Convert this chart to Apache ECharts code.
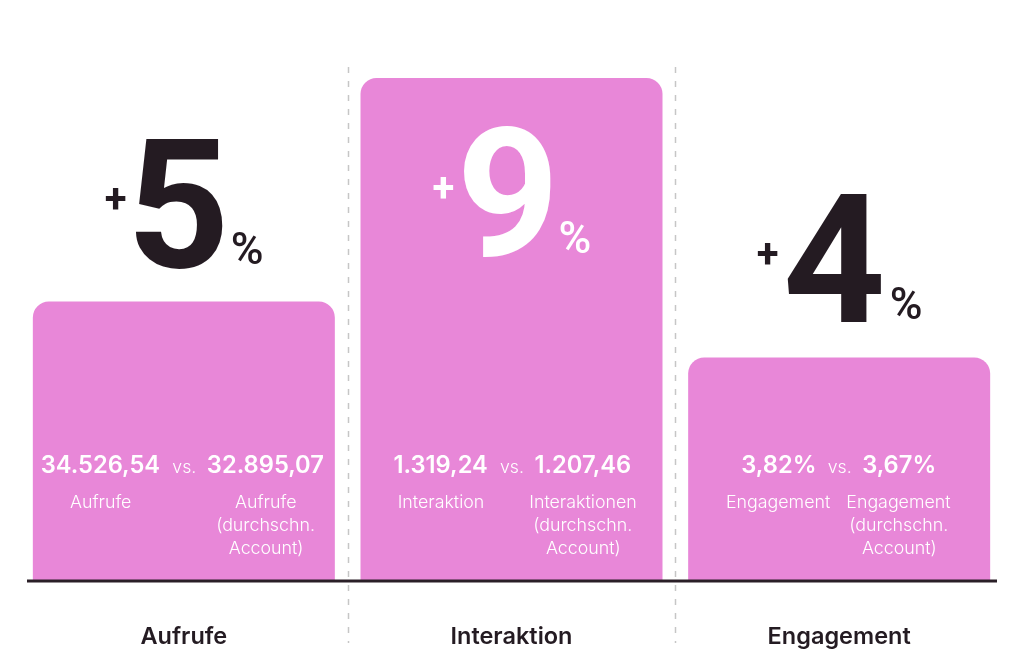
<!DOCTYPE html>
<html><head><meta charset="utf-8">
<script src="https://cdn.jsdelivr.net/npm/echarts@6/dist/echarts.min.js"></script>
<style>html,body{margin:0;padding:0;background:#fff}#c{width:1024px;height:666px}</style>
</head><body><div id="c"></div>
<script>
// ---- data ----
const categories = ['Aufrufe', 'Interaktion', 'Engagement'];
const growthPct = [5, 9, 4];
const ownValues = ['34.526,54', '1.319,24', '3,82%'];
const avgValues = ['32.895,07', '1.207,46', '3,67%'];
const ownLabels = [['Aufrufe'], ['Interaktion'], ['Engagement']];
const avgLabels = [
  ['Aufrufe', '(durchschn.', 'Account)'],
  ['Interaktionen', '(durchschn.', 'Account)'],
  ['Engagement', '(durchschn.', 'Account)']
];

// ---- style ----
const PINK = '#E887D8', DARK = '#241B22';
const W = 1024, H = 666;
const GRID = { left: 20, right: 21, top: 78, bottom: 85 };
const catW = (W - GRID.left - GRID.right) / categories.length;
const baseY = H - GRID.bottom;

const mctx = document.createElement('canvas').getContext('2d');
function fs(weight, size, family) { return weight + ' ' + size.toFixed(2) + 'px ' + family; }
function meas(s, font) {
  mctx.font = font; mctx.textBaseline = 'middle'; mctx.textAlign = 'left';
  const r = mctx.measureText(s);
  return { l: r.actualBoundingBoxLeft, r: r.actualBoundingBoxRight, a: r.actualBoundingBoxAscent, d: r.actualBoundingBoxDescent,
    w: r.actualBoundingBoxLeft + r.actualBoundingBoxRight, h: r.actualBoundingBoxAscent + r.actualBoundingBoxDescent };
}
function sizeForH(s, weight, family, h) { return 100 * h / meas(s, fs(weight, 100, family)).h; }
function sizeForW(s, weight, family, w) { return 100 * w / meas(s, fs(weight, 100, family)).w; }

const DIG_FAM = 'Roboto', TXT_FAM = 'Inter';
const digitFont = fs('bold', sizeForH('5', 'bold', DIG_FAM, 131), DIG_FAM);
const plusFont = fs('bold', sizeForW('+', 'bold', DIG_FAM, 20), DIG_FAM);
const pctFont = fs('500', sizeForH('%', '500', DIG_FAM, 33), DIG_FAM);
const valFont = fs('600', sizeForH('4', '600', TXT_FAM, 17.3), TXT_FAM);
const vsFont = fs('300', sizeForW('vs.', '300', TXT_FAM, 22), TXT_FAM);
const subFont = fs('300', sizeForH('A', '300', TXT_FAM, 13), TXT_FAM);

function place(s, font, fill, hx, hmode, vy, vmode, ref) {
  const k = meas(s, font);
  const kv = ref ? meas(ref, font) : k;
  let x;
  if (hmode === 'left') x = hx + k.l;
  else if (hmode === 'right') x = hx - k.r;
  else x = hx - (k.r - k.l) / 2;
  let y;
  if (vmode === 'bottom') y = vy - kv.d;
  else y = vy - (kv.d - kv.a) / 2;
  return { type: 'text', silent: true, style: { text: s, x: x, y: y, font: font, fill: fill,
    align: 'left', verticalAlign: 'middle', textAlign: 'left', textVerticalAlign: 'middle' } };
}

function renderItem(params, api) {
  const i = params.dataIndex;
  const v = api.value(1);
  const top = api.coord([api.value(0), v]);
  const base = api.coord([api.value(0), 0]);
  const cx = top[0];
  const inside = v === Math.max.apply(null, growthPct);
  const col = inside ? '#FFFFFF' : DARK;
  const dBottom = inside ? top[1] + 180 : top[1] - 33;
  const dTxt = String(v);
  const gap = 10;
  const p = meas('+', plusFont), d = meas(dTxt, digitFont), c = meas('%', pctFont);
  let x0 = cx - (p.w + gap + d.w + gap + c.w) / 2;
  const ch = [];
  ch.push(place('+', plusFont, col, x0, 'left', dBottom - 70, 'center'));
  x0 += p.w + gap;
  ch.push(place(dTxt, digitFont, col, x0, 'left', dBottom, 'bottom', '5'));
  x0 += d.w + gap;
  ch.push(place('%', pctFont, col, x0, 'left', dBottom - 5, 'bottom'));

  // comparison values
  const vBottom = base[1] - 108;
  const vs = meas('vs.', vsFont);
  const vsLeft = cx - vs.w / 2;
  ch.push(place('vs.', vsFont, '#FFFFFF', vsLeft, 'left', vBottom, 'bottom', 'v'));
  const lRight = vsLeft - 13, rLeft = vsLeft + vs.w + 12.5;
  const lm = meas(ownValues[i], valFont), rm = meas(avgValues[i], valFont);
  ch.push(place(ownValues[i], valFont, '#FFFFFF', lRight, 'right', vBottom, 'bottom', '4'));
  ch.push(place(avgValues[i], valFont, '#FFFFFF', rLeft, 'left', vBottom, 'bottom', '4'));
  const lC = lRight - lm.w / 2, rC = rLeft + rm.w / 2;
  const sub0 = base[1] - 79.5, lh = 23;
  ownLabels[i].forEach(function (t, k) { ch.push(place(t, subFont, '#FFFFFF', lC, 'center', sub0 + k * lh, 'center', 'A')); });
  avgLabels[i].forEach(function (t, k) { ch.push(place(t, subFont, '#FFFFFF', rC, 'center', sub0 + k * lh, 'center', 'A')); });
  return { type: 'group', children: ch };
}

const graphics = [];
for (let k = 1; k < categories.length; k++) {
  const x = Math.round(GRID.left + k * catW) + 0.5;
  graphics.push({ type: 'line', z: 1, silent: true, shape: { x1: x, y1: 67, x2: x, y2: 643 },
    style: { stroke: '#C6C6C6', lineWidth: 1.5, lineDash: [6, 8] } });
}
graphics.push({ type: 'line', z: 100, silent: true, shape: { x1: 27, y1: baseY, x2: 997, y2: baseY },
  style: { stroke: '#2A1F27', lineWidth: 3 } });

const chart = echarts.init(document.getElementById('c'), null, { renderer: 'canvas' });
chart.setOption({
  animation: false,
  backgroundColor: '#FFFFFF',
  grid: GRID,
  xAxis: {
    type: 'category', data: categories,
    axisLine: { show: false }, axisTick: { show: false }, splitLine: { show: false },
    axisLabel: { margin: 56, verticalAlign: 'middle', color: DARK, fontFamily: TXT_FAM, fontWeight: 600, fontSize: 23.5 }
  },
  yAxis: { type: 'value', min: 0, max: Math.max.apply(null, growthPct), show: false, splitLine: { show: false } },
  graphic: graphics,
  series: [
    { type: 'bar', data: growthPct, barWidth: 302, silent: true, z: 2,
      itemStyle: { color: PINK, borderRadius: [16, 16, 0, 0] } },
    { type: 'custom', z: 5, clip: false, silent: true,
      data: growthPct.map(function (v, i) { return [i, v]; }),
      encode: { x: 0, y: 1 }, renderItem: renderItem }
  ]
});
</script></body></html>
